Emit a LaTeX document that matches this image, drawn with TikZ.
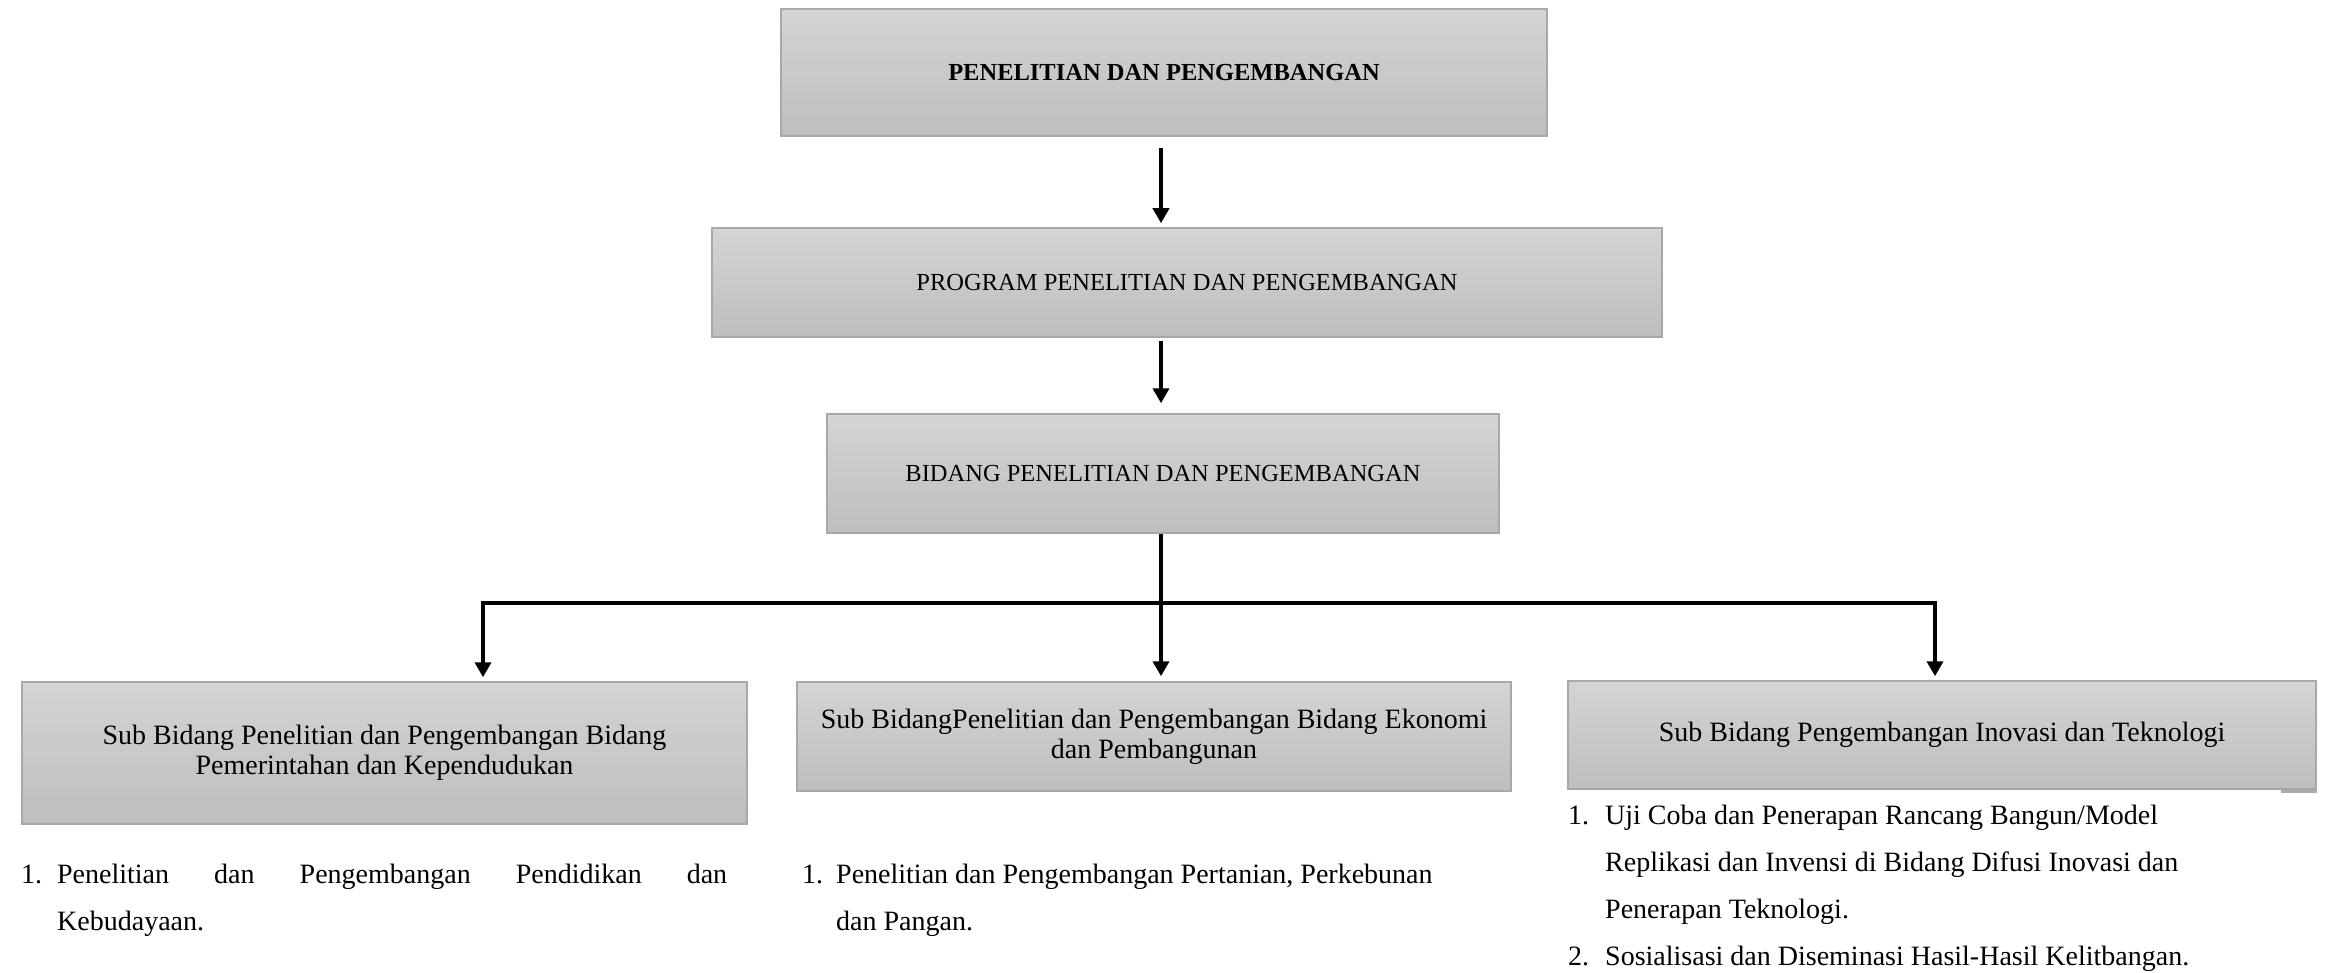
\documentclass[tikz,border=0pt]{standalone}
\usepackage{fontspec}
\setmainfont{Liberation Serif}
\usetikzlibrary{arrows.meta,calc}
\definecolor{boxtop}{RGB}{212,212,212}
\definecolor{boxbot}{RGB}{190,190,190}
\definecolor{boxedge}{RGB}{168,168,168}
\begin{document}
\begin{tikzpicture}[x=1pt,y=-1pt,
  box/.style={draw=boxedge, line width=1.5pt, top color=boxtop, bottom color=boxbot,
    inner sep=0pt, align=center, font=\fontsize{28}{30}\selectfont},
  capsbox/.style={box, font=\fontsize{24.5}{30}\selectfont},
  conn/.style={line width=4pt, draw=black},
  tip/.style={-{Triangle[width=16pt,length=15pt]}},
  listtext/.style={anchor=base west, inner sep=0pt, align=left,
    font=\fontsize{28}{47}\selectfont},
]
\useasboundingbox (0,0) rectangle (2341,973);

% hierarchy boxes
\node[capsbox, minimum width=766pt, minimum height=127pt] (b1) at (1164,72.5)
  {\bfseries PENELITIAN DAN PENGEMBANGAN};
\node[capsbox, minimum width=950pt, minimum height=109pt] (b2) at (1187,282.5)
  {PROGRAM PENELITIAN DAN PENGEMBANGAN};
\node[capsbox, minimum width=672pt, minimum height=119pt] (b3) at (1163,473.5)
  {BIDANG PENELITIAN DAN PENGEMBANGAN};
\node[box, minimum width=725pt, minimum height=142pt] (b4) at (384.5,753)
  {Sub Bidang Penelitian dan Pengembangan Bidang\\Pemerintahan dan Kependudukan};
\node[box, minimum width=714pt, minimum height=109pt] (b5) at (1154,736.5)
  {Sub BidangPenelitian dan Pengembangan Bidang Ekonomi\\dan Pembangunan};
\node[box, minimum width=748pt, minimum height=108pt] (b6) at (1942,735)
  {Sub Bidang Pengembangan Inovasi dan Teknologi};
\fill[boxedge!80!boxbot] ($(b6.south east)+(-36,0)$) rectangle ($(b6.south east)+(0,3)$);

% connector routing points
\coordinate (spine) at (1161,0);
\coordinate (bus) at (1161,603);
\coordinate (busL) at (483,603);
\coordinate (busR) at (1935,603);

\draw[conn, tip, shorten <=11pt, shorten >=4pt] (b1.south -| spine) -- (b2.north -| spine);
\draw[conn, tip, shorten <=3pt, shorten >=10pt] (b2.south -| spine) -- (b3.north -| spine);
\draw[conn, tip, shorten >=5pt] (b3.south -| spine) -- (b5.north -| spine);
\draw[conn, tip, shorten >=4pt] (bus) -| (b4.north -| busL);
\draw[conn, tip, shorten >=4pt] (bus) -| (b6.north -| busR);

% task lists under each sub-division (anchored at the last baseline)
\node[listtext] (l1) at (21,930)
  {\makebox[36pt][l]{1.}\makebox[670pt][s]{Penelitian dan Pengembangan Pendidikan dan}\\
   \hspace*{36pt}Kebudayaan.};
\node[listtext] (l2) at (802,930)
  {\makebox[34pt][l]{1.}Penelitian dan Pengembangan Pertanian, Perkebunan\\
   \hspace*{34pt}dan Pangan.};
\node[listtext] (l3) at (1568,965)
  {\makebox[37pt][l]{1.}Uji Coba dan Penerapan Rancang Bangun/Model\\
   \hspace*{37pt}Replikasi dan Invensi di Bidang Difusi Inovasi dan\\
   \hspace*{37pt}Penerapan Teknologi.\\
   \makebox[37pt][l]{2.}Sosialisasi dan Diseminasi Hasil-Hasil Kelitbangan.};
\end{tikzpicture}
\end{document}
